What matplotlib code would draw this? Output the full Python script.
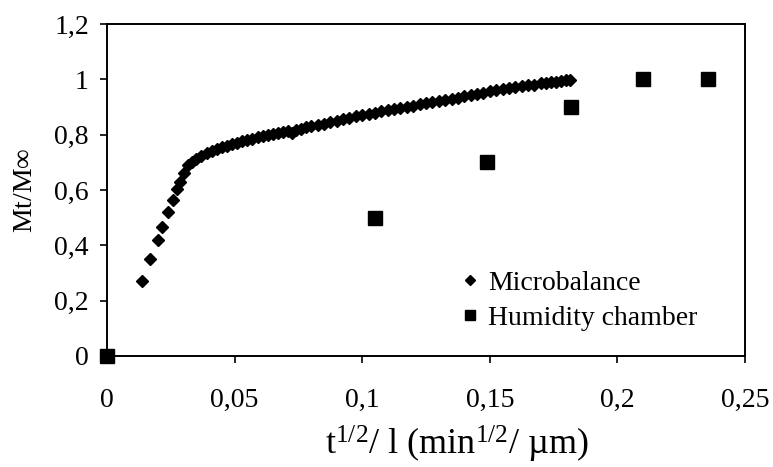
import matplotlib
matplotlib.use("Agg")
from matplotlib import pyplot as plt
from matplotlib.ticker import FuncFormatter

plt.rcParams['font.family'] = ['Liberation Serif', 'DejaVu Serif']
plt.rcParams['mathtext.fontset'] = 'custom'
plt.rcParams['mathtext.rm'] = 'Liberation Serif'
plt.rcParams['mathtext.it'] = 'Liberation Serif:italic'

# Microbalance measurements
mb_x = [0.0138, 0.0169, 0.0199, 0.0214, 0.0238, 0.0260, 0.0273, 0.0286, 0.0300, 0.0319,
        0.0335, 0.0350, 0.0370, 0.0390, 0.0410, 0.0430, 0.0450, 0.0470, 0.0490, 0.0510,
        0.0530, 0.0550, 0.0570, 0.0590, 0.0610, 0.0630, 0.0650, 0.0670, 0.0690, 0.0710,
        0.0724, 0.0740, 0.0760, 0.0780, 0.0800,
        0.0825, 0.0850, 0.0875, 0.0900, 0.0925, 0.0950, 0.0975, 0.1000, 0.1025, 0.1050,
        0.1075, 0.1100, 0.1125, 0.1150, 0.1175, 0.1200, 0.1225, 0.1250, 0.1275, 0.1300,
        0.1325, 0.1350, 0.1375, 0.1400, 0.1425, 0.1450, 0.1475, 0.1500, 0.1525, 0.1550,
        0.1575, 0.1600, 0.1625, 0.1650, 0.1675, 0.1700,
        0.1720, 0.1740, 0.1760, 0.1780, 0.1800, 0.1814]
mb_y = [0.271, 0.349, 0.419, 0.465, 0.520, 0.564, 0.603, 0.630, 0.660, 0.690,
        0.702, 0.712, 0.724, 0.733, 0.741, 0.748, 0.754, 0.760, 0.766, 0.770,
        0.776, 0.781, 0.786, 0.790, 0.795, 0.799, 0.803, 0.807, 0.811, 0.814,
        0.806, 0.818, 0.822, 0.826, 0.830,
        0.835, 0.840, 0.845, 0.850, 0.855, 0.860, 0.866, 0.871, 0.876, 0.880,
        0.885, 0.889, 0.893, 0.897, 0.901, 0.905, 0.909, 0.913, 0.917, 0.921,
        0.925, 0.929, 0.934, 0.939, 0.943, 0.948, 0.952, 0.956, 0.960, 0.964,
        0.967, 0.971, 0.975, 0.978, 0.981, 0.985,
        0.988, 0.990, 0.992, 0.994, 0.996, 0.998]

# Humidity chamber measurements
hc_x = [0.0, 0.105, 0.149, 0.182, 0.210, 0.2355]
hc_y = [0.0, 0.50, 0.70, 0.90, 1.00, 1.00]

x_ticks = [0, 0.05, 0.1, 0.15, 0.2, 0.25]
y_ticks = [0, 0.2, 0.4, 0.6, 0.8, 1.0, 1.2]


def comma(v, pos):
    return ("%g" % v).replace(".", ",")


fig = plt.figure(figsize=(7.73, 4.67), dpi=100)
ax = fig.add_axes([0.1384, 0.2377, 0.8254, 0.711])

ax.plot(mb_x, mb_y, "kD", ms=6.2, mec="k", lw=0, label="Microbalance", clip_on=False)
ax.plot(hc_x, hc_y, "ks", ms=9.5, mec="k", lw=0, label="Humidity chamber", clip_on=False)

ax.set_xlim(0, 0.25)
ax.set_ylim(0, 1.2)
ax.set_xticks(x_ticks)
ax.set_yticks(y_ticks)
ax.xaxis.set_major_formatter(FuncFormatter(comma))
ax.yaxis.set_major_formatter(FuncFormatter(comma))
ax.tick_params(direction="out", length=5, width=1.2, labelsize=20)
ax.tick_params(axis="x", pad=18)
ax.tick_params(axis="y", pad=8)
for s in ax.spines.values():
    s.set_linewidth(1.4)

ax.set_ylabel(r"Mt/M$\infty$", fontsize=20, labelpad=12)
ax.set_xlabel(r"t$^{1/2}$/ l (min$^{1/2}$/ µm)", fontsize=26)
ax.xaxis.set_label_coords(0.549, -0.205)

ax.legend(loc="upper left", bbox_to_anchor=(0.556, 0.258), frameon=False, fontsize=20,
          markerscale=0.75, handlelength=0.6, handletextpad=0.35, labelspacing=0.35,
          borderpad=0, borderaxespad=0)

fig.savefig("out.png", dpi=100)
